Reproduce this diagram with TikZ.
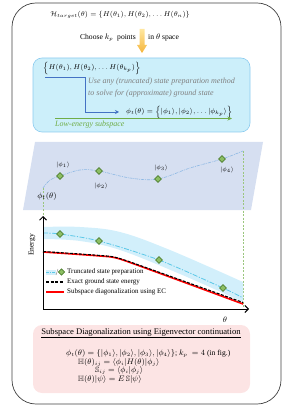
\documentclass[tikz,border=0pt]{standalone}
\usepackage{amsmath,amssymb}
\usepackage{fontspec}
\setmainfont{Liberation Serif}
\usetikzlibrary{arrows.meta,shapes.geometric}
\definecolor{frame}{HTML}{404040}
\definecolor{boxblue}{HTML}{CCEFFA}
\definecolor{boxblueb}{HTML}{8CCBEF}
\definecolor{pathblue}{HTML}{4472C4}
\definecolor{ggreen}{HTML}{70AD47}
\definecolor{planeblue}{HTML}{D6DFF1}
\definecolor{curveblue}{HTML}{8DB8E4}
\definecolor{bandblue}{HTML}{D2EFFB}
\definecolor{dashcyan}{HTML}{5BC8E8}
\definecolor{pinkbg}{HTML}{FCE4E4}
\definecolor{dgreen}{HTML}{4F7F30}
\definecolor{lgreen}{HTML}{8CBF63}
\definecolor{txtgray}{HTML}{808080}
\definecolor{arrtop}{HTML}{FFE7A0}
\definecolor{arrbot}{HTML}{F5B53C}
\tikzset{
 txt/.style={inner sep=0pt, font=\fontsize{7}{8}\selectfont},
 btxt/.style={inner sep=0pt, font=\fontsize{7.6}{8}\selectfont},
 eqtxt/.style={inner sep=0pt, font=\fontsize{7.6}{8}\selectfont},
 smalltxt/.style={inner sep=0pt, font=\fontsize{6.5}{7.5}\selectfont},
 legtxt/.style={inner sep=0pt, font=\fontsize{7}{7.5}\selectfont},
 ittxt/.style={inner sep=0pt, font=\fontsize{8}{8}\selectfont\itshape},
 dmd/.style={diamond, draw=dgreen, fill=lgreen, line width=0.6pt, inner sep=0pt, minimum size=7pt},
 axis/.style={line width=1pt, -{Straight Barb[length=3.5pt,width=7pt]}},
 vdash/.style={ggreen!70, dashed, line width=0.5pt, dash pattern=on 2pt off 1.5pt},
}
\begin{document}
\begin{tikzpicture}[x=1pt,y=-1pt]
\useasboundingbox (0,0) rectangle (287,411);
% outer frame
\draw[frame, line width=0.7pt, rounded corners=24pt] (12,3) rectangle (281,404);
% header
\node[txt] (ht) at (120,15) {$\mathcal{H}_{target}(\theta) = \{H(\theta_1), H(\theta_2), \ldots H(\theta_n)\}$};
\shade[top color=arrtop, bottom color=arrbot] (139.5,29) -- (144.5,29) -- (144.5,45) -- (147,45) -- (142,53) -- (137,45) -- (139.5,45) -- cycle;
\node[btxt, anchor=east] (choose) at (136,38) {Choose $k_p$\ \ points};
\node[btxt, anchor=west] (inspace) at (148,38) {in $\theta$ space};
% blue box
\draw[boxblueb, fill=boxblue, rounded corners=9pt, line width=0.6pt] (33,58) rectangle (250,132);
\node[txt, anchor=west] (hset) at (43,68) {$\Big\{H(\theta_1), H(\theta_2), \ldots H(\theta_{k_p})\Big\}$};
\node[ittxt, anchor=west, text=txtgray] (use1) at (88,82) {Use any (truncated) state preparation method};
\node[ittxt, anchor=west, text=txtgray] (use2) at (88,93.5) {to solve for (approximate) ground state};
\node[txt, anchor=west] (phit) at (126,112) {$\phi_t(\theta) = \Big\{|\phi_1\rangle, |\phi_2\rangle, \ldots |\phi_{k_p}\rangle\Big\}$};
\coordinate (p0) at (45,77);
\coordinate (p1) at (85,77);
\coordinate (p2) at (85,112);
\coordinate (p3) at (119,112);
\draw[pathblue, line width=0.6pt, -{Stealth[length=4pt,width=4pt]}] (p0) -- (p1) -- (p2) -- (p3);
\coordinate (g0) at (55,118.5);
\coordinate (g1) at (232,118.5);
\draw[ggreen, line width=0.9pt, -{Stealth[length=4.5pt,width=4pt]}] (g0) -- (g1);
\node[ittxt, anchor=west, text=ggreen] (low) at (55,124.5) {Low-energy subspace};
% plane
\fill[planeblue] (35,142) -- (263,142) -- (251,210) -- (23,210) -- cycle;
\coordinate (cs) at (43,188);
\coordinate (ce) at (243,151);
\draw[curveblue, line width=0.6pt, dash pattern=on 3pt off 1pt on 0.8pt off 1pt] plot[smooth, tension=0.6] coordinates {(43,188) (50,180) (60,176) (80,170) (99,171) (130,178) (158,179) (190,168) (222,159) (243,151)};
\draw[vdash] (cs) -- (43,216);
\coordinate (ax) at (243,309);
\draw[vdash] (ce) -- (ax);
\node[dmd] (d1) at (60,176) {};
\node[dmd] (d2) at (99,171) {};
\node[dmd] (d3) at (158,179) {};
\node[dmd] (d4) at (222,159) {};
\node[smalltxt] (l1) at (63,165) {$|\phi_1\rangle$};
\node[smalltxt] (l2) at (101,186) {$|\phi_2\rangle$};
\node[smalltxt] (l3) at (161,168) {$|\phi_3\rangle$};
\node[smalltxt] (l4) at (227,170) {$|\phi_4\rangle$};
\node[inner sep=0pt, font=\fontsize{8.5}{9}\selectfont] (pt) at (47,197) {$\phi_t(\theta)$};
% plot
\fill[bandblue] plot[smooth, tension=0.6] coordinates {(43,227) (80,227) (120,232) (170,250) (243,282)} -- plot[smooth, tension=0.6] coordinates {(243,302) (180,274) (120,250) (80,241) (43,239)} -- cycle;
\draw[dashcyan, line width=0.8pt, dash pattern=on 5pt off 1.5pt on 1.2pt off 1.5pt] plot[smooth, tension=0.5] coordinates {(43,233) (60,234) (99,241) (159,260) (223,288) (243,298)};
\draw[red, line width=1.6pt] plot[smooth, tension=0.3] coordinates {(43,252) (100,256) (123,260) (243,304)};
\draw[black, line width=1.1pt, dash pattern=on 3pt off 1.5pt] plot[smooth, tension=0.3] coordinates {(43,251.5) (100,255.5) (123,259.5) (243,302.5)};
\node[dmd] (e1) at (60,234) {};
\node[dmd] (e2) at (99,241) {};
\node[dmd] (e3) at (159,260) {};
\node[dmd] (e4) at (223,288) {};
\coordinate (origin) at (43,309);
\coordinate (ytop) at (43,216);
\coordinate (xend) at (249,309);
\draw[axis] (origin) -- (ytop);
\draw[axis] (origin) -- (xend);
\node[btxt, rotate=90] (energy) at (32,245) {Energy};
\node[btxt] (theta) at (225,320) {$\theta$};
% legend
\fill[bandblue] (46,269.5) rectangle (56,274.5);
\draw[dashcyan, line width=0.8pt, dash pattern=on 3pt off 1pt on 1pt off 1pt] (46,272) -- (56,272);
\draw[gray, line width=0.4pt] (56,275) -- (58,269);
\node[dmd, minimum size=6.5pt] (lgd) at (61.5,272) {};
\node[legtxt, anchor=west] (lt1) at (67,272) {Truncated state preparation};
\draw[black, line width=1.2pt, dash pattern=on 3pt off 1.5pt] (46,282) -- (64,282);
\node[legtxt, anchor=west] (lt2) at (67,282) {Exact ground state energy};
\draw[red, line width=1.2pt] (46,292) -- (64,292);
\node[legtxt, anchor=west] (lt3) at (67,292) {Subspace diagonalization using EC};
% pink box
\fill[pinkbg, rounded corners=9pt] (33,325) rectangle (250,393);
\node[inner sep=0pt, font=\fontsize{8.6}{9}\selectfont] (title) at (141,333) {\underline{Subspace Diagonalization using Eigenvector continuation}};
\node[eqtxt, anchor=west] (eq1) at (66,353.5) {$\phi_t(\theta) = \{|\phi_1\rangle, |\phi_2\rangle, |\phi_3\rangle, |\phi_4\rangle\}$; $k_p\ = 4$ (in fig.)};
\node[eqtxt, anchor=west] (eq2) at (78,362) {$\mathbb{H}(\theta)_{ij} = \langle\phi_i|H(\theta)|\phi_j\rangle$};
\node[eqtxt, anchor=west] (eq3) at (95,370.5) {$\mathbb{S}_{ij} = \langle\phi_i|\phi_j\rangle$};
\node[eqtxt, anchor=west] (eq4) at (78,379) {$\mathbb{H}(\theta)|\psi\rangle = E\,\mathbb{S}|\psi\rangle$};
\end{tikzpicture}
\end{document}
